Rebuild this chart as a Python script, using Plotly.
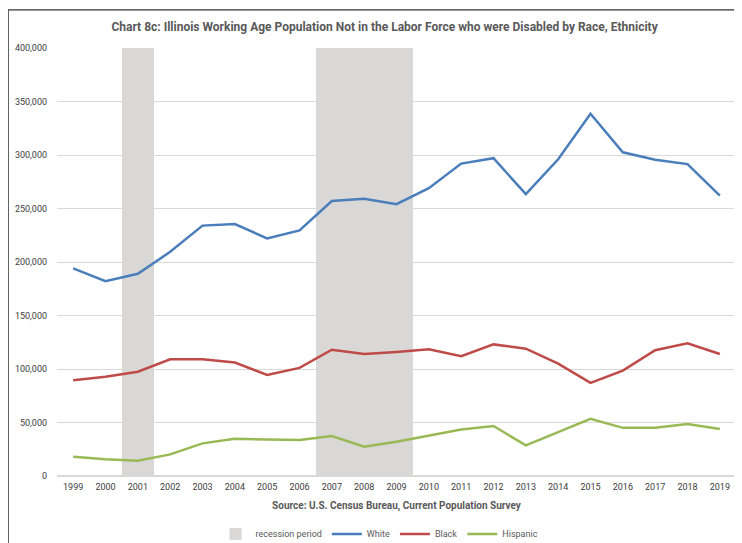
import plotly.graph_objects as go

#Data
years=[str(y) for y in range(1999,2020)]
white=[194000,182000,189000,209500,234000,235500,222000,229500,257000,259000,254000,
       269000,292000,297000,263500,296000,338500,302500,295500,291500,262000]
black=[89500,92800,97500,109000,109000,106000,94500,101000,118000,114000,116000,
       118500,112000,123000,119000,105000,87000,98500,117500,124000,114000]
hispanic=[18000,15600,14300,20200,30500,34700,34000,33600,37400,27400,32000,
          37400,43500,46700,28600,41000,53500,45000,45000,48500,44000]
recession=[0,0,400000,0,0,0,0,0,400000,400000,400000,0,0,0,0,0,0,0,0,0,0]

font_name="Liberation Sans Narrow, Arial Narrow, Roboto, sans-serif"
text_grey="#595959"

fig=go.Figure()

#Recession shading as full-height bars
fig.add_trace(go.Bar(x=years,y=recession,name="recession period",marker=dict(color="#d9d8d6",line=dict(width=0)),hoverinfo="skip"))

#Series lines
fig.add_trace(go.Scatter(x=years,y=white,mode="lines",name="White",line=dict(color="#4a7ebb",width=2.5)))
fig.add_trace(go.Scatter(x=years,y=black,mode="lines",name="Black",line=dict(color="#be4b48",width=2.5)))
fig.add_trace(go.Scatter(x=years,y=hispanic,mode="lines",name="Hispanic",line=dict(color="#98b954",width=2.5)))

#Outer chart border (only left/top visible in the reference)
fig.add_shape(type="rect",xref="paper",yref="paper",x0=-0.072,x1=1.2,y0=-0.3,y1=1.089,
              line=dict(color="black",width=1),layer="below")

#page body adds an 8px offset, so the figure is 8px smaller than the window
fig.update_layout(
    width=734,height=535,
    paper_bgcolor="white",plot_bgcolor="white",
    margin=dict(l=49,r=6,t=40,b=67,autoexpand=False),
    bargap=0,
    font=dict(family=font_name,size=9,color=text_grey),
    title=dict(text="<b>Chart 8c: Illinois Working Age Population Not in the Labor Force who were Disabled by Race, Ethnicity</b>",
               x=0.513,xanchor="center",y=0.9645,yanchor="middle",font=dict(size=12,color=text_grey)),
    legend=dict(orientation="h",x=0.475,xanchor="center",yref="container",y=0.017,yanchor="middle",
                font=dict(size=9,color=text_grey),traceorder="normal",itemwidth=30),
    showlegend=True,
)
fig.update_xaxes(type="category",showgrid=False,showline=False,ticks="",automargin=False,
                 tickfont=dict(size=9,color="#404040"),ticklabelstandoff=4,
                 title=dict(text="<b>Source: U.S. Census Bureau, Current Population Survey</b>",
                            font=dict(size=10,color=text_grey),standoff=10))
fig.update_yaxes(range=[0,400000],dtick=50000,tickformat=",",showgrid=True,gridcolor="#d9d9d9",
                 gridwidth=1,zeroline=True,zerolinecolor="#d9d9d9",showline=False,ticks="",automargin=False,
                 tickfont=dict(size=9,color="#404040"),ticklabelstandoff=9)

fig.write_html("out.html")
